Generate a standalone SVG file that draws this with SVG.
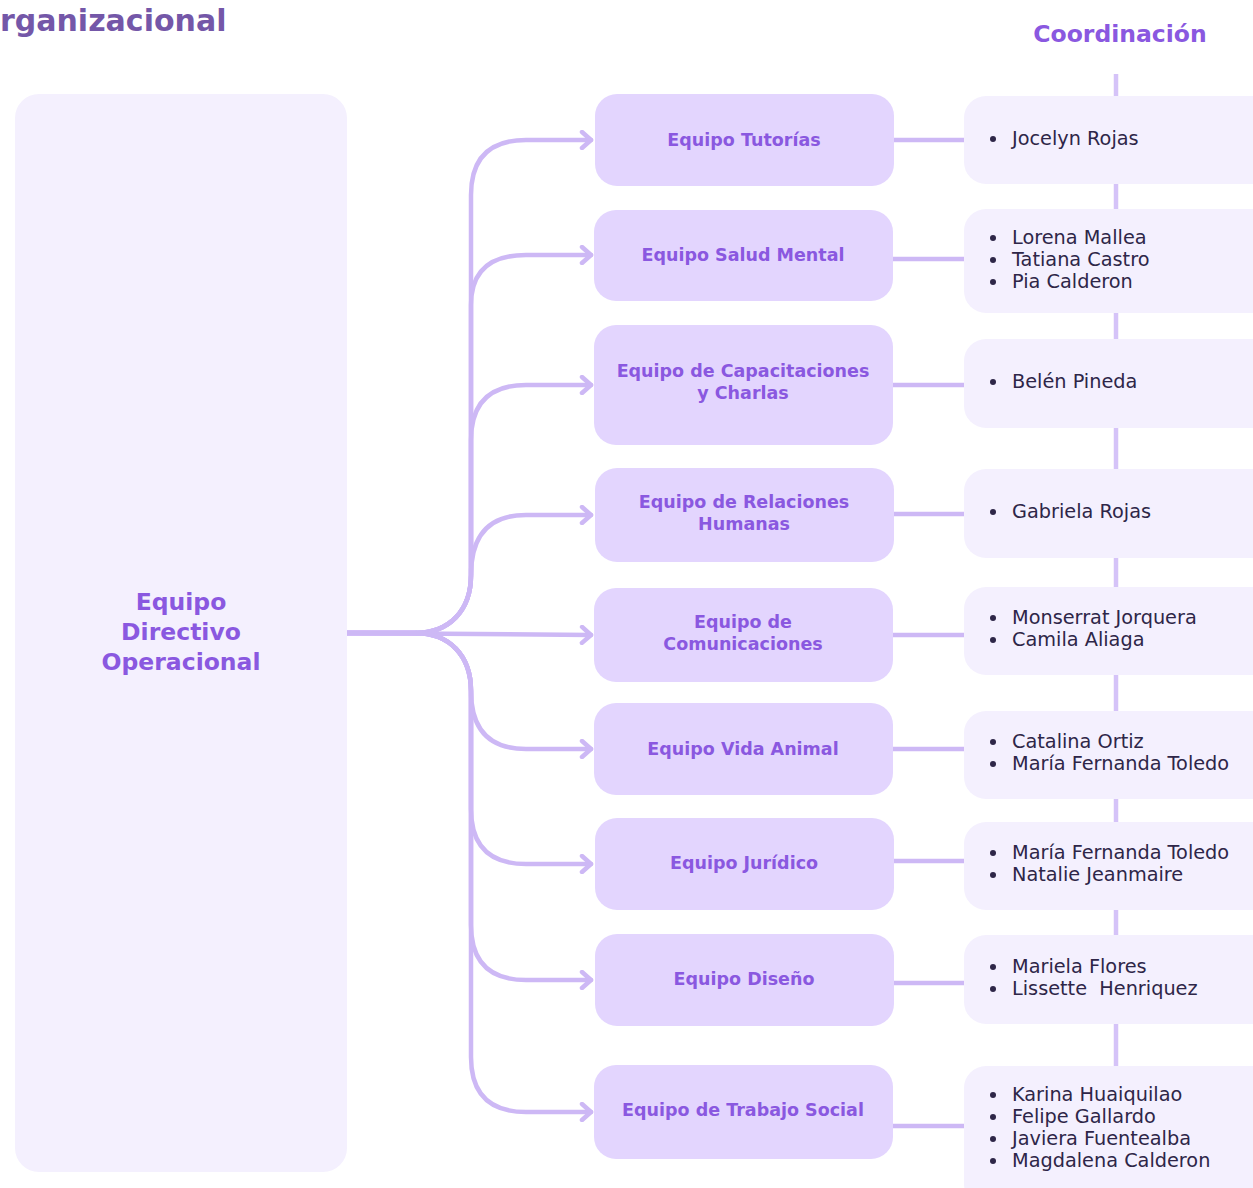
<svg xmlns="http://www.w3.org/2000/svg" width="1253" height="1188" viewBox="0 0 1253 1188">
<style>
.bg{fill:#fff}
.main{fill:#F4F0FE}
.team{fill:#E3D5FE}
.coord{fill:#F4F0FE}
.tl{font-family:"DejaVu Sans",sans-serif;font-weight:bold;font-size:17.5px;fill:#8A58E0;text-anchor:middle}
.ml{font-family:"DejaVu Sans",sans-serif;font-weight:bold;font-size:23.5px;fill:#8A58E0;text-anchor:middle}
.nm{font-family:"DejaVu Sans",sans-serif;font-size:19.3px;fill:#2E2648}
.dot{fill:#2E2648}
.br{fill:none;stroke:#CDB8F5;stroke-width:4.5;stroke-linecap:round;stroke-linejoin:round}
.hl{fill:none;stroke:#CDB8F5;stroke-width:4.5}
.vl{fill:none;stroke:#D5C3F8;stroke-width:4.5}
</style>
<defs>
<marker id="arr" viewBox="-12 -10 15 20" markerWidth="15" markerHeight="20" refX="0" refY="0" orient="auto" markerUnits="userSpaceOnUse">
<path d="M-9,-8 L0,0 L-9,8" fill="none" stroke="#CDB8F5" stroke-width="4.5" stroke-linecap="round" stroke-linejoin="round"/>
</marker>
</defs>
<rect class="bg" width="1253" height="1188"/>
<text x="0" y="31" style="font-family:'DejaVu Sans',sans-serif;font-weight:bold;font-size:30px;fill:#7457A8">rganizacional</text>
<text x="1120" y="42" style="font-family:'DejaVu Sans',sans-serif;font-weight:bold;font-size:23.5px;fill:#8A58E0;text-anchor:middle">Coordinación</text>

<g id="coordination-line">
<line class="vl" x1="1116" y1="74" x2="1116" y2="1070"/>
</g>

<g id="connectors">
<path class="br" marker-end="url(#arr)" d="M347,633 H415 C450,633 471,610 471,575 V195 Q471,140 526,140 H591"/>
<path class="br" marker-end="url(#arr)" d="M347,633 H415 C450,633 471,610 471,575 V305 Q471,255 526,255 H591"/>
<path class="br" marker-end="url(#arr)" d="M347,633 H415 C450,633 471,610 471,575 V440 Q471,385 526,385 H591"/>
<path class="br" marker-end="url(#arr)" d="M347,633 H415 C450,633 471,610 471,575 Q471,515 526,515 H591"/>
<path class="br" marker-end="url(#arr)" d="M347,633 L591,635"/>
<path class="br" marker-end="url(#arr)" d="M347,633 H415 C450,633 471,656 471,691 Q471,749 526,749 H591"/>
<path class="br" marker-end="url(#arr)" d="M347,633 H415 C450,633 471,656 471,691 V809 Q471,864 526,864 H591"/>
<path class="br" marker-end="url(#arr)" d="M347,633 H415 C450,633 471,656 471,691 V925 Q471,980 526,980 H591"/>
<path class="br" marker-end="url(#arr)" d="M347,633 H415 C450,633 471,656 471,691 V1057 Q471,1112 526,1112 H591"/>
<line class="hl" x1="893" y1="140" x2="966" y2="140"/>
<line class="hl" x1="892" y1="259" x2="966" y2="259"/>
<line class="hl" x1="892" y1="385" x2="966" y2="385"/>
<line class="hl" x1="893" y1="514" x2="966" y2="514"/>
<line class="hl" x1="892" y1="635" x2="966" y2="635"/>
<line class="hl" x1="892" y1="749" x2="966" y2="749"/>
<line class="hl" x1="893" y1="861" x2="966" y2="861"/>
<line class="hl" x1="893" y1="983" x2="966" y2="983"/>
<line class="hl" x1="892" y1="1126" x2="966" y2="1126"/>
</g>

<g id="main">
<rect class="main" x="15" y="94" width="332" height="1078" rx="24"/>
<text class="ml" x="181" y="610">Equipo</text>
<text class="ml" x="181" y="640">Directivo</text>
<text class="ml" x="181" y="670">Operacional</text>
</g>

<g id="team-tutorias"><rect class="team" x="595" y="94" width="299" height="92" rx="22"/><text class="tl" x="744" y="146">Equipo Tutorías</text></g>
<g id="team-salud"><rect class="team" x="594" y="210" width="299" height="91" rx="22"/><text class="tl" x="743" y="261">Equipo Salud Mental</text></g>
<g id="team-capacitaciones"><rect class="team" x="594" y="325" width="299" height="120" rx="22"/><text class="tl" x="743" y="377">Equipo de Capacitaciones</text><text class="tl" x="743" y="399">y Charlas</text></g>
<g id="team-relaciones"><rect class="team" x="595" y="468" width="299" height="94" rx="22"/><text class="tl" x="744" y="508">Equipo de Relaciones</text><text class="tl" x="744" y="530">Humanas</text></g>
<g id="team-comunicaciones"><rect class="team" x="594" y="588" width="299" height="94" rx="22"/><text class="tl" x="743" y="628">Equipo de</text><text class="tl" x="743" y="650">Comunicaciones</text></g>
<g id="team-vida"><rect class="team" x="594" y="703" width="299" height="92" rx="22"/><text class="tl" x="743" y="755">Equipo Vida Animal</text></g>
<g id="team-juridico"><rect class="team" x="595" y="818" width="299" height="92" rx="22"/><text class="tl" x="744" y="869">Equipo Jurídico</text></g>
<g id="team-diseno"><rect class="team" x="595" y="934" width="299" height="92" rx="22"/><text class="tl" x="744" y="985">Equipo Diseño</text></g>
<g id="team-social"><rect class="team" x="594" y="1065" width="299" height="94" rx="22"/><text class="tl" x="743" y="1116">Equipo de Trabajo Social</text></g>

<g id="coord-1"><rect class="coord" x="964" y="96" width="320" height="88" rx="22"/><circle class="dot" cx="993" cy="139" r="3"/><text class="nm" x="1012" y="145">Jocelyn Rojas</text></g>
<g id="coord-2"><rect class="coord" x="964" y="209" width="320" height="104" rx="22"/><circle class="dot" cx="993" cy="238" r="3"/><circle class="dot" cx="993" cy="260" r="3"/><circle class="dot" cx="993" cy="282" r="3"/><text class="nm" x="1012" y="244">Lorena Mallea</text><text class="nm" x="1012" y="266">Tatiana Castro</text><text class="nm" x="1012" y="288">Pia Calderon</text></g>
<g id="coord-3"><rect class="coord" x="964" y="339" width="320" height="89" rx="22"/><circle class="dot" cx="993" cy="382" r="3"/><text class="nm" x="1012" y="388">Belén Pineda</text></g>
<g id="coord-4"><rect class="coord" x="964" y="469" width="320" height="89" rx="22"/><circle class="dot" cx="993" cy="512" r="3"/><text class="nm" x="1012" y="518">Gabriela Rojas</text></g>
<g id="coord-5"><rect class="coord" x="964" y="587" width="320" height="88" rx="22"/><circle class="dot" cx="993" cy="618" r="3"/><circle class="dot" cx="993" cy="640" r="3"/><text class="nm" x="1012" y="624">Monserrat Jorquera</text><text class="nm" x="1012" y="646">Camila Aliaga</text></g>
<g id="coord-6"><rect class="coord" x="964" y="711" width="320" height="88" rx="22"/><circle class="dot" cx="993" cy="742" r="3"/><circle class="dot" cx="993" cy="764" r="3"/><text class="nm" x="1012" y="748">Catalina Ortiz</text><text class="nm" x="1012" y="770">María Fernanda Toledo</text></g>
<g id="coord-7"><rect class="coord" x="964" y="822" width="320" height="88" rx="22"/><circle class="dot" cx="993" cy="853" r="3"/><circle class="dot" cx="993" cy="875" r="3"/><text class="nm" x="1012" y="859">María Fernanda Toledo</text><text class="nm" x="1012" y="881">Natalie Jeanmaire</text></g>
<g id="coord-8"><rect class="coord" x="964" y="935" width="320" height="89" rx="22"/><circle class="dot" cx="993" cy="967" r="3"/><circle class="dot" cx="993" cy="989" r="3"/><text class="nm" x="1012" y="973">Mariela Flores</text><text class="nm" x="1012" y="995" xml:space="preserve">Lissette  Henriquez</text></g>
<g id="coord-9"><rect class="coord" x="964" y="1066" width="320" height="140" rx="22"/><circle class="dot" cx="993" cy="1095" r="3"/><circle class="dot" cx="993" cy="1117" r="3"/><circle class="dot" cx="993" cy="1139" r="3"/><circle class="dot" cx="993" cy="1161" r="3"/><text class="nm" x="1012" y="1101">Karina Huaiquilao</text><text class="nm" x="1012" y="1123">Felipe Gallardo</text><text class="nm" x="1012" y="1145">Javiera Fuentealba</text><text class="nm" x="1012" y="1167">Magdalena Calderon</text></g>
</svg>
